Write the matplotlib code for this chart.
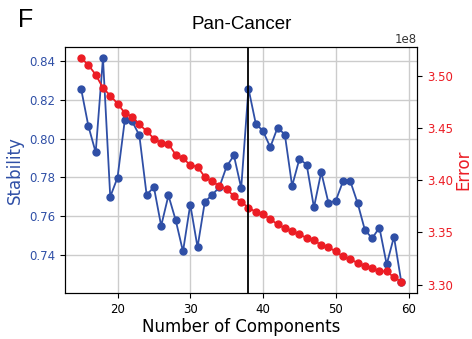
import numpy as np
import matplotlib
matplotlib.use('Agg')
import matplotlib.pyplot as plt

# number of components tested
components = list(range(15, 60))

# stability per number of components
stability = [0.8256, 0.8064, 0.7929, 0.8416, 0.7700, 0.7799, 0.8095, 0.8090, 0.8017, 0.7710,
             0.7750, 0.7550, 0.7707, 0.7579, 0.7418, 0.7660, 0.7440, 0.7674, 0.7709, 0.7750,
             0.7857, 0.7913, 0.7745, 0.8258, 0.8078, 0.8039, 0.7956, 0.8057, 0.8021, 0.7756,
             0.7895, 0.7866, 0.7645, 0.7827, 0.7668, 0.7680, 0.7780, 0.7780, 0.7668, 0.7529,
             0.7486, 0.7541, 0.7351, 0.7494, 0.7262]

# reconstruction error, in units of 1e8
error = [3.5170, 3.5102, 3.5010, 3.4883, 3.4810, 3.4733, 3.4644, 3.4606, 3.4535, 3.4469,
         3.4399, 3.4358, 3.4348, 3.4243, 3.4211, 3.4144, 3.4129, 3.4030, 3.3989, 3.3944,
         3.3912, 3.3848, 3.3791, 3.3738, 3.3696, 3.3674, 3.3626, 3.3578, 3.3540, 3.3514,
         3.3480, 3.3448, 3.3426, 3.3378, 3.3356, 3.3318, 3.3270, 3.3241, 3.3209, 3.3180,
         3.3155, 3.3130, 3.3127, 3.3070, 3.3028]

chosen_k = 38

blue = '#2f4fa6'
red = '#ec1c24'

fig = plt.figure(figsize=(4.72, 3.39), dpi=100)
ax1 = fig.add_axes([0.138, 0.136, 0.746, 0.726])

ax1.plot(components, stability, color=blue, marker='o', markersize=5, linewidth=1.3)
ax1.grid(color='#cccccc', linewidth=1)
ax1.set_axisbelow(True)
ax1.set_ylabel('Stability', color=blue, fontsize=12)
ax1.set_xlabel('Number of Components', fontsize=12, labelpad=2)
ax1.tick_params(axis='y', labelcolor=blue, labelsize=8.5)
ax1.tick_params(axis='x', labelsize=8.5)
ax1.set_title('Pan-Cancer', fontsize=13.5, family='Liberation Sans', pad=13)

ax2 = ax1.twinx()
ax2.plot(components, np.array(error) * 1e8, color=red, marker='o', markersize=5, linewidth=1.3)
ax2.axvline(chosen_k, color='black', linewidth=1.3)
ax2.set_ylabel('Error', color=red, fontsize=12, labelpad=1)
ax2.tick_params(axis='y', labelcolor=red, labelsize=8.5)
ax2.yaxis.get_offset_text().set_color('#333333')
ax2.yaxis.get_offset_text().set_fontsize(8.5)

fig.text(0.038, 0.975, 'F', fontsize=18, family='Liberation Sans', va='top')

fig.savefig('out.png', dpi=100)
